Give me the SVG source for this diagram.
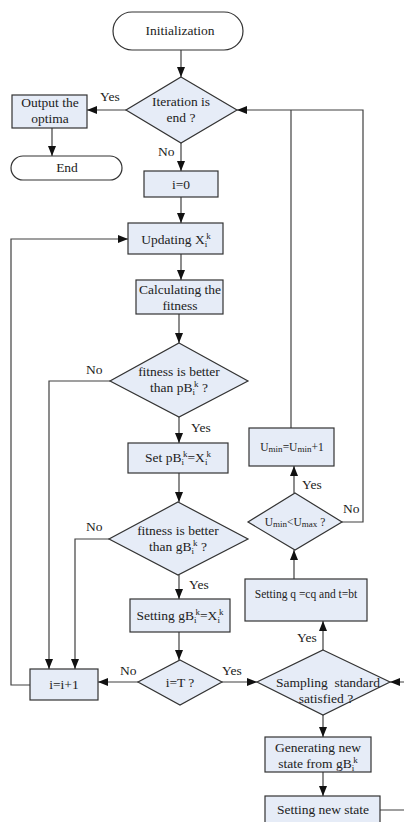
<svg xmlns="http://www.w3.org/2000/svg" width="404" height="822" viewBox="0 0 404 822">
<defs>
<marker id="ah" viewBox="0 0 10 8" refX="10" refY="4" markerWidth="10" markerHeight="8" markerUnits="userSpaceOnUse" orient="auto">
<path d="M0,0 L10,4 L0,8 z" fill="#111"/>
</marker>
<style>
.b{fill:#e6ecf7;stroke:#333;stroke-width:1.2}
.t{fill:#fff;stroke:#333;stroke-width:1.2}
.c{fill:none;stroke:#404040;stroke-width:1.2}
.a{marker-end:url(#ah)}
text{font-family:"Liberation Serif","Times New Roman",serif;font-size:13.5px;fill:#222}
.m{text-anchor:middle}
.s{font-size:9px}
.q{font-size:11.5px}
</style>
</defs>
<rect width="404" height="822" fill="#fff"/>
<g id="connectors">
<path class="c a" d="M181,50 V77"/>
<path class="c a" d="M126,110 H87"/>
<path class="c a" d="M52,128 V156"/>
<path class="c a" d="M181,143 V171"/>
<path class="c a" d="M181,197 V223"/>
<path class="c a" d="M181,254 V280"/>
<path class="c a" d="M179,314 V343"/>
<path class="c a" d="M110,381 H49 V669"/>
<path class="c a" d="M179,417 V443"/>
<path class="c a" d="M179,473 V502"/>
<path class="c a" d="M109,539 H75 V669"/>
<path class="c a" d="M179,575 V599"/>
<path class="c a" d="M179,632 V660"/>
<path class="c a" d="M138,682 H98"/>
<path class="c a" d="M222,682 H257"/>
<path class="c a" d="M30,685 H11 V239 H128"/>
<path class="c a" d="M323,650 V621"/>
<path class="c a" d="M323,715 V737"/>
<path class="c a" d="M323,772 V796"/>
<path class="c a" d="M380,810 H412 V682 H390"/>
<path class="c a" d="M294,579 V550"/>
<path class="c a" d="M294,493 V466"/>
<path class="c a" d="M342,522 H363 V110 H237"/>
<path class="c" d="M291,428 V110"/>
<text x="100" y="101">Yes</text>
<text x="158" y="156">No</text>
<text x="86" y="374">No</text>
<text x="191" y="432">Yes</text>
<text x="86" y="531">No</text>
<text x="189" y="589">Yes</text>
<text x="120" y="675">No</text>
<text x="222" y="675">Yes</text>
<text x="297" y="642">Yes</text>
<text x="302" y="489">Yes</text>
<text x="343" y="513">No</text>
</g>
<g id="init"><rect class="t" x="113" y="12" width="130" height="38" rx="19"/><text class="m" x="180" y="35">Initialization</text></g>
<g id="iter"><polygon class="b" points="181,77 237,110 181,143 126,110"/><text class="m" x="181" y="106">Iteration is</text><text class="m" x="181" y="122">end ?</text></g>
<g id="output"><rect class="b" x="12" y="95" width="75" height="33"/><text class="m" x="50" y="107">Output the</text><text class="m" x="50" y="123">optima</text></g>
<g id="end"><rect class="t" x="11" y="156" width="111" height="24" rx="12"/><text class="m" x="67" y="172">End</text></g>
<g id="i0"><rect class="b" x="144" y="171" width="74" height="26"/><text class="m" x="181" y="189">i=0</text></g>
<g id="update"><rect class="b" x="128" y="223" width="95" height="31"/><text class="m" x="176" y="244">Updating X<tspan class="s" dy="3">i</tspan><tspan class="s" dx="-1" dy="-8">k</tspan></text></g>
<g id="calc"><rect class="b" x="136" y="280" width="87" height="34"/><text class="m" x="180" y="294">Calculating the</text><text class="m" x="180" y="310">fitness</text></g>
<g id="dpb"><polygon class="b" points="179,343 248,381 179,417 110,381"/><text class="m" x="179" y="376">fitness is better</text><text class="m" x="179" y="392">than pB<tspan class="s" dy="3">i</tspan><tspan class="s" dx="-1" dy="-8">k</tspan><tspan dy="5"> ?</tspan></text></g>
<g id="setpb"><rect class="b" x="128" y="443" width="100" height="30"/><text class="m" x="178" y="462">Set pB<tspan class="s" dy="3">i</tspan><tspan class="s" dx="-1" dy="-8">k</tspan><tspan dy="5">=X</tspan><tspan class="s" dy="3">i</tspan><tspan class="s" dx="-1" dy="-8">k</tspan></text></g>
<g id="dgb"><polygon class="b" points="178,502 248,539 178,575 109,539"/><text class="m" x="178" y="535">fitness is better</text><text class="m" x="178" y="551">than gB<tspan class="s" dy="3">i</tspan><tspan class="s" dx="-1" dy="-8">k</tspan><tspan dy="5"> ?</tspan></text></g>
<g id="setgb"><rect class="b" x="130" y="599" width="100" height="33"/><text class="m" x="180" y="620">Setting gB<tspan class="s" dy="3">i</tspan><tspan class="s" dx="-1" dy="-8">k</tspan><tspan dy="5">=X</tspan><tspan class="s" dy="3">i</tspan><tspan class="s" dx="-1" dy="-8">k</tspan></text></g>
<g id="iT"><polygon class="b" points="180,660 222,682 180,705 138,682"/><text class="m" x="180" y="687">i=T ?</text></g>
<g id="inc"><rect class="b" x="30" y="669" width="68" height="31"/><text class="m" x="64" y="689">i=i+1</text></g>
<g id="sample"><polygon class="b" points="323,650 390,682 323,715 257,682"/><text class="m" x="328" y="687" style="white-space:pre">Sampling  standard</text><text class="m" x="326" y="703">satisfied ?</text></g>
<g id="setq"><rect class="b" x="245" y="579" width="122" height="42"/><text class="m q" x="306" y="598">Setting q =cq and t=bt</text></g>
<g id="gen"><rect class="b" x="265" y="737" width="106" height="35"/><text class="m" x="318" y="752">Generating new</text><text class="m" x="318" y="768">state from gB<tspan class="s" dy="3">i</tspan><tspan class="s" dx="-1" dy="-8">k</tspan></text></g>
<g id="newstate"><rect class="b" x="265" y="796" width="115" height="34"/><text class="m" x="323" y="814">Setting new state</text></g>
<g id="umin"><rect class="b" x="249" y="428" width="85" height="38"/><text class="m q" x="292" y="451">U<tspan class="s" dy="1">min</tspan><tspan dy="-1">=U</tspan><tspan class="s" dy="1">min</tspan><tspan dy="-1">+1</tspan></text></g>
<g id="ucmp"><polygon class="b" points="295,493 342,522 295,550 248,522"/><text class="m q" x="295" y="526">U<tspan class="s" dy="1">min</tspan><tspan dy="-1">&lt;U</tspan><tspan class="s" dy="1">max</tspan><tspan dy="-1"> ?</tspan></text></g>
</svg>
